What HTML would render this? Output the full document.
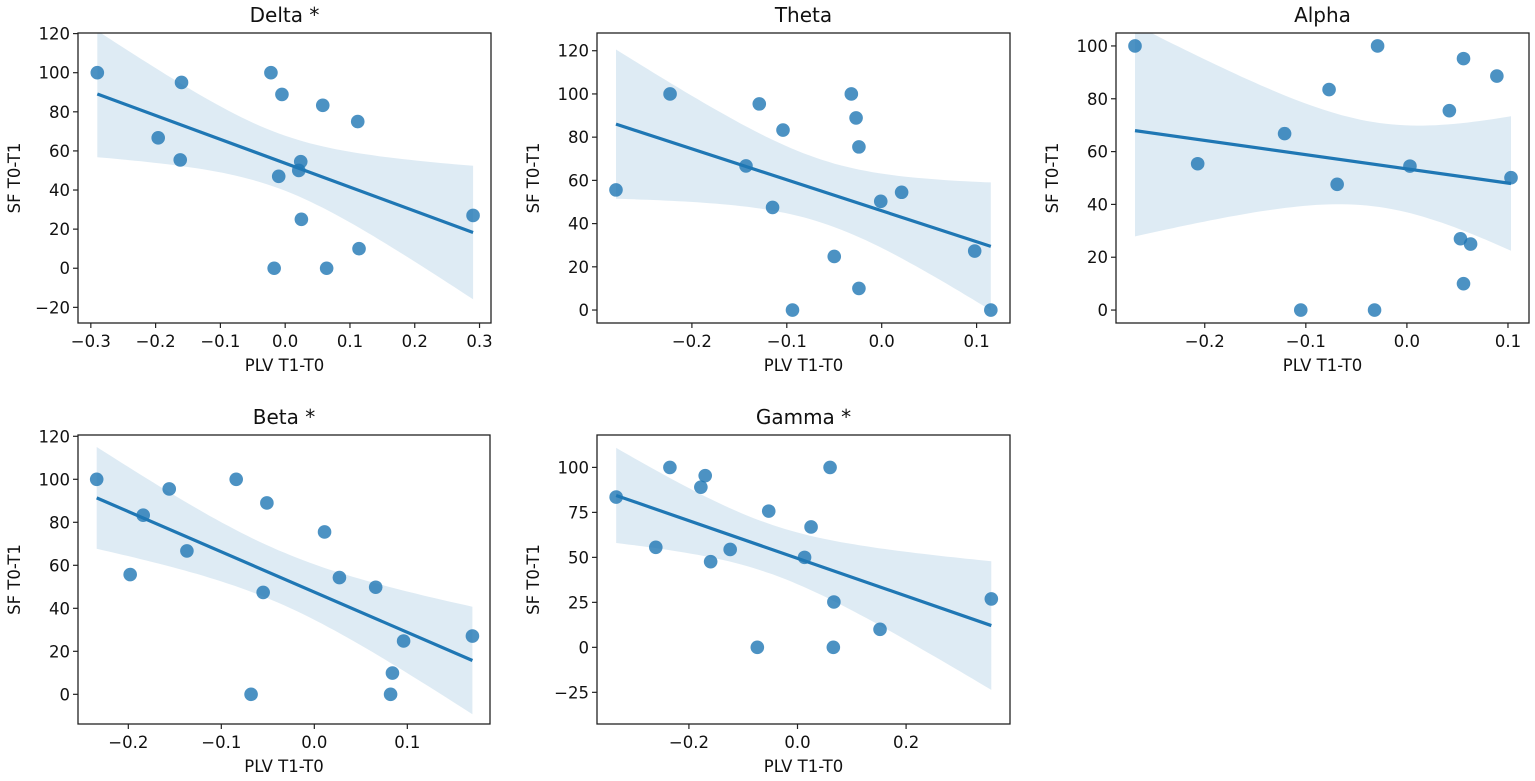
<!DOCTYPE html>
<html><head><meta charset="utf-8">
<style>
html,body{margin:0;padding:0;background:#fff;}
svg{display:block;font-family:"DejaVu Sans","Liberation Sans",sans-serif;}
</style></head>
<body>
<svg id="fig" width="1535" height="781" viewBox="0 0 1535 781" xmlns="http://www.w3.org/2000/svg"></svg>
<script>
// ---- Data ----
const deltaX = [-0.29,-0.16,-0.196,-0.162,-0.022,-0.005,0.058,0.112,0.024,0.021,-0.01,0.025,0.29,0.114,-0.017,0.064];
const deltaY = [100,95,66.7,55.4,100,88.9,83.3,75,54.5,50,47,25,27,10,0,0];
const thetaX = [-0.28,-0.223,-0.129,-0.104,-0.143,-0.115,-0.032,-0.027,-0.024,-0.001,0.021,-0.05,-0.024,-0.094,0.098,0.115];
const thetaY = [55.6,100,95.4,83.3,66.7,47.5,100,88.9,75.5,50.3,54.5,24.8,10,0,27.3,0];
const alphaX = [-0.269,-0.207,-0.121,-0.077,-0.069,-0.029,-0.105,-0.032,0.003,0.042,0.056,0.089,0.103,0.053,0.063,0.056];
const alphaY = [100,55.4,66.8,83.5,47.6,100,0,0,54.5,75.5,95.2,88.6,50.1,27,25,10];
const betaX = [-0.234,-0.198,-0.184,-0.156,-0.137,-0.084,-0.051,-0.055,-0.068,0.011,0.027,0.066,0.096,0.084,0.082,0.17];
const betaY = [100,55.7,83.3,95.5,66.7,100,89,47.4,0,75.5,54.3,49.8,24.8,9.9,0,27.1];
const gammaX = [-0.334,-0.261,-0.235,-0.178,-0.17,-0.16,-0.124,-0.053,-0.074,0.013,0.025,0.06,0.067,0.066,0.152,0.357];
const gammaY = [83.5,55.6,100,89,95.4,47.6,54.4,75.7,0,50,66.9,100,25.2,0,10,26.9];

const deltaXTicks = [-0.3,-0.2,-0.1,0,0.1,0.2,0.3];
const deltaXLabels = ["\u22120.3","\u22120.2","\u22120.1","0.0","0.1","0.2","0.3"];
const deltaYTicks = [-20,0,20,40,60,80,100,120];
const deltaYLabels = ["\u221220","0","20","40","60","80","100","120"];
const thetaXTicks = [-0.2,-0.1,0,0.1];
const thetaXLabels = ["\u22120.2","\u22120.1","0.0","0.1"];
const thetaYTicks = [0,20,40,60,80,100,120];
const thetaYLabels = ["0","20","40","60","80","100","120"];
const alphaXTicks = [-0.2,-0.1,0,0.1];
const alphaXLabels = ["\u22120.2","\u22120.1","0.0","0.1"];
const alphaYTicks = [0,20,40,60,80,100];
const alphaYLabels = ["0","20","40","60","80","100"];
const betaXTicks = [-0.2,-0.1,0,0.1];
const betaXLabels = ["\u22120.2","\u22120.1","0.0","0.1"];
const betaYTicks = [0,20,40,60,80,100,120];
const betaYLabels = ["0","20","40","60","80","100","120"];
const gammaXTicks = [-0.2,0,0.2];
const gammaXLabels = ["\u22120.2","0.0","0.2"];
const gammaYTicks = [-25,0,25,50,75,100];
const gammaYLabels = ["\u221225","0","25","50","75","100"];

const NS = "http://www.w3.org/2000/svg";
const svg = document.getElementById('fig');
function mk(tag, attrs, parent){
  const e = document.createElementNS(NS, tag);
  for (const k in attrs) e.setAttribute(k, attrs[k]);
  (parent||svg).appendChild(e);
  return e;
}

function panel(cfg){
  const g = mk('g', {});
  
  
  const {L,R,T,B,xmin,xmax,ymin,ymax} = cfg;
  const sx = v => L + (v - xmin) / (xmax - xmin) * (R - L);
  const sy = v => B - (v - ymin) / (ymax - ymin) * (B - T);
  const xs = cfg.xs, ys = cfg.ys, n = xs.length;
  let mx = 0, my = 0;
  for (let i=0;i<n;i++){ mx += xs[i]; my += ys[i]; }
  mx/=n; my/=n;
  let sxx=0, sxy=0;
  for (let i=0;i<n;i++){ sxx += (xs[i]-mx)**2; sxy += (xs[i]-mx)*(ys[i]-my); }
  const b = sxy/sxx, a = my - b*mx;
  let sse=0;
  for (let i=0;i<n;i++){ sse += (ys[i]-a-b*xs[i])**2; }
  const s = Math.sqrt(sse/(n-2)), t = 1.8;
  const x0 = Math.min(...xs), x1 = Math.max(...xs);
  const up=[], lo=[];
  for (let k=0;k<=60;k++){
    const x = x0 + (x1-x0)*k/60;
    const yh = a + b*x;
    const h = t*s*Math.sqrt(1/n + (x-mx)**2/sxx);
    up.push(sx(x).toFixed(1)+','+sy(yh+h).toFixed(1));
    lo.unshift(sx(x).toFixed(1)+','+sy(yh-h).toFixed(1));
  }
  const cp = mk('clipPath', {id:'clip-'+cfg.key}, g);
  mk('rect', {x:L, y:T, width:R-L, height:B-T}, cp);
  const band = mk('polygon', {points: up.concat(lo).join(' '), fill:'#1f77b4', 'fill-opacity':0.15, stroke:'none', 'clip-path':'url(#clip-'+cfg.key+')'}, g);
  
  
  for (let i=0;i<n;i++){
    const c = mk('circle', {cx: sx(xs[i]), cy: sy(ys[i]), r: 6.8, fill:'#1f77b4', 'fill-opacity':0.8}, g);
    
    
  }
  const ln = mk('line', {x1: sx(x0), y1: sy(a+b*x0), x2: sx(x1), y2: sy(a+b*x1), stroke:'#1f77b4', 'stroke-width':3.2}, g);
  
  
  const fr = mk('rect', {x:L, y:T, width:R-L, height:B-T, fill:'none', stroke:'#222', 'stroke-width':1.3}, g);
  
  
  cfg.xt.forEach((v,i)=>{
    const x = sx(v);
    mk('line', {x1:x, y1:B, x2:x, y2:B+5, stroke:'#222', 'stroke-width':1.2}, g);
    const tx = mk('text', {x:x, y:B+24, 'font-size':16.5, 'text-anchor':'middle', fill:'#111'}, g);
    tx.textContent = cfg.xl[i];
    
    
  });
  cfg.yt.forEach((v,i)=>{
    const y = sy(v);
    mk('line', {x1:L-5, y1:y, x2:L, y2:y, stroke:'#222', 'stroke-width':1.2}, g);
    const ty = mk('text', {x:L-8, y:y+6, 'font-size':16.5, 'text-anchor':'end', fill:'#111'}, g);
    ty.textContent = cfg.yl[i];
    
    
  });
  const cx = (L+R)/2;
  const tt = mk('text', {x:cx, y:T-11, 'font-size':20, 'text-anchor':'middle', fill:'#111'}, g);
  tt.textContent = cfg.title;
  
  
  const xl = mk('text', {x:cx, y:B+48, 'font-size':16.5, 'text-anchor':'middle', fill:'#111'}, g);
  xl.textContent = 'PLV T1-T0';
  
  
  const yc = (T+B)/2, yx = L - 58;
  const yl = mk('text', {x:yx, y:yc, 'font-size':16.5, 'text-anchor':'middle', fill:'#111', transform:'rotate(-90 '+yx+' '+yc+')'}, g);
  yl.textContent = 'SF T0-T1';
  
  
}

panel({key:'delta', title:'Delta *', L:78, R:491, T:33, B:323, xmin:-0.3198, xmax:0.3177, ymin:-28, ymax:120.3,
  xs:deltaX, ys:deltaY, xt:deltaXTicks, xl:deltaXLabels, yt:deltaYTicks, yl:deltaYLabels});
panel({key:'theta', title:'Theta', L:597, R:1010, T:33, B:323, xmin:-0.300, xmax:0.1352, ymin:-6.0, ymax:128.2,
  xs:thetaX, ys:thetaY, xt:thetaXTicks, xl:thetaXLabels, yt:thetaYTicks, yl:thetaYLabels});
panel({key:'alpha', title:'Alpha', L:1116, R:1529, T:33, B:323, xmin:-0.2878, xmax:0.1208, ymin:-4.9, ymax:104.9,
  xs:alphaX, ys:alphaY, xt:alphaXTicks, xl:alphaXLabels, yt:alphaYTicks, yl:alphaYLabels});
panel({key:'beta', title:'Beta *', L:78, R:490, T:435, B:724, xmin:-0.2541, xmax:0.1889, ymin:-13.8, ymax:120.6,
  xs:betaX, ys:betaY, xt:betaXTicks, xl:betaXLabels, yt:betaYTicks, yl:betaYLabels});
panel({key:'gamma', title:'Gamma *', L:597, R:1010, T:435, B:724, xmin:-0.3693, xmax:0.3914, ymin:-42.6, ymax:118,
  xs:gammaX, ys:gammaY, xt:gammaXTicks, xl:gammaXLabels, yt:gammaYTicks, yl:gammaYLabels});
</script>
</body></html>
